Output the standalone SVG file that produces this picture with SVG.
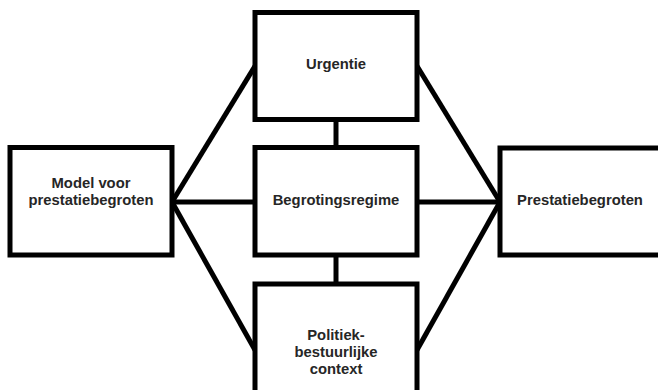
<svg xmlns="http://www.w3.org/2000/svg" width="658" height="390" viewBox="0 0 658 390">
<style>
.box{fill:#fff;stroke:#000;stroke-width:5}
.ln{stroke:#000;stroke-width:5;fill:none}
.t{font-family:"Liberation Sans",Arial,sans-serif;font-weight:bold;font-size:14.8px;fill:#262626;text-anchor:middle}
</style>
<rect width="658" height="390" fill="#fff"/>
<g id="connectors">
<line class="ln" x1="172" y1="202" x2="255" y2="66"/>
<line class="ln" x1="172" y1="202" x2="255" y2="202"/>
<line class="ln" x1="172" y1="202" x2="255" y2="350"/>
<line class="ln" x1="500" y1="202" x2="417" y2="66"/>
<line class="ln" x1="500" y1="202" x2="417" y2="202"/>
<line class="ln" x1="500" y1="202" x2="417" y2="350"/>
<line class="ln" x1="336" y1="119.5" x2="336" y2="147.5"/>
<line class="ln" x1="336" y1="255" x2="336" y2="284"/>
</g>
<g id="model">
<rect class="box" x="10" y="147.5" width="162" height="107.5"/>
<text class="t" x="91" y="187.5">Model voor</text>
<text class="t" x="91" y="204.5">prestatiebegroten</text>
</g>
<g id="urgentie">
<rect class="box" x="255" y="12.5" width="162" height="107"/>
<text class="t" x="336" y="68.5">Urgentie</text>
</g>
<g id="begrotingsregime">
<rect class="box" x="255" y="147.5" width="162" height="107.5"/>
<text class="t" x="336" y="204.5">Begrotingsregime</text>
</g>
<g id="context">
<rect class="box" x="255" y="284" width="162" height="132"/>
<text class="t" x="336" y="340">Politiek-</text>
<text class="t" x="336" y="357">bestuurlijke</text>
<text class="t" x="336" y="374">context</text>
</g>
<g id="prestatiebegroten">
<rect class="box" x="500" y="148" width="164" height="107"/>
<text class="t" x="580" y="204.5">Prestatiebegroten</text>
</g>
</svg>
